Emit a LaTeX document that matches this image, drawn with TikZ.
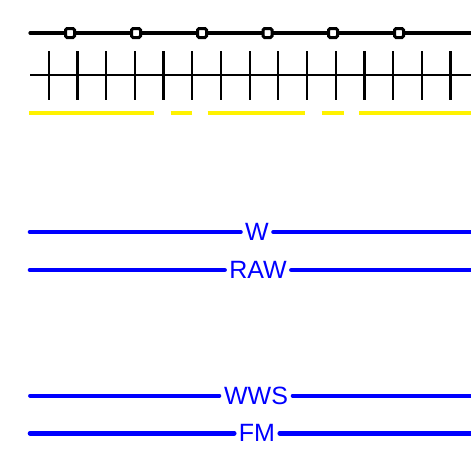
\documentclass[tikz,border=0pt]{standalone}
\usepackage{fontspec}
\setmainfont{Liberation Sans}
\begin{document}
\begin{tikzpicture}[x=1pt,y=-1pt,
  sq/.style={draw=black,fill=white,line width=3pt,minimum size=9pt,inner sep=0pt,rounded corners=1.5pt},
  rail/.style={black,line width=3.2pt,line cap=round},
  tickln/.style={black,line width=2pt},
  yel/.style={yellow,line width=4pt},
  blu/.style={blue,line width=4.6pt,line cap=round},
  lbl/.style={text=blue,font=\fontsize{25}{25}\selectfont,inner xsep=4.5pt,inner ysep=0pt}]
\useasboundingbox (0,0) rectangle (471,458);
% top rail with squares
\coordinate (tl) at (30,33);
\coordinate (tr) at (474,33);
\draw[rail] (tl) -- (tr);
\foreach \i/\x in {1/70,2/136,3/202,4/267.5,5/333,6/399}
  \node[sq] (s\i) at (\x,33) {};
% tick line
\coordinate (kl) at (30,75);
\coordinate (kr) at (471,75);
\draw[tickln] (kl) -- (kr);
\foreach \x in {48.7,77.4,106.1,134.8,163.5,192.2,220.9,249.6,278.3,307,335.7,364.4,393.1,421.8,450.5}
  \draw[line width=2.2pt] (\x,51) -- (\x,100);
% yellow dashed line
\foreach \a/\b in {29/154,170.5/192,207.5/305,321.5/343.5,359/472}
  \draw[yel] (\a,113.3) -- (\b,113.3);
% blue labelled lines
\node[lbl] (w) at (257,232) {W};
\coordinate (wl) at (30,232); \coordinate (wr) at (474,232);
\draw[blu] (wl) -- (w); \draw[blu] (w) -- (wr);
\node[lbl] (raw) at (258,270) {RAW};
\coordinate (rl) at (30,270); \coordinate (rr) at (474,270);
\draw[blu] (rl) -- (raw); \draw[blu] (raw) -- (rr);
\node[lbl] (wws) at (256,395.7) {WWS};
\coordinate (sl) at (30,395.7); \coordinate (sr) at (474,395.7);
\draw[blu,line width=3.8pt] (sl) -- (wws); \draw[blu,line width=3.8pt] (wws) -- (sr);
\node[lbl] (fm) at (257,433.3) {FM};
\coordinate (fl) at (30,433.3); \coordinate (fr) at (474,433.3);
\draw[blu] (fl) -- (fm); \draw[blu] (fm) -- (fr);
\end{tikzpicture}
\end{document}
